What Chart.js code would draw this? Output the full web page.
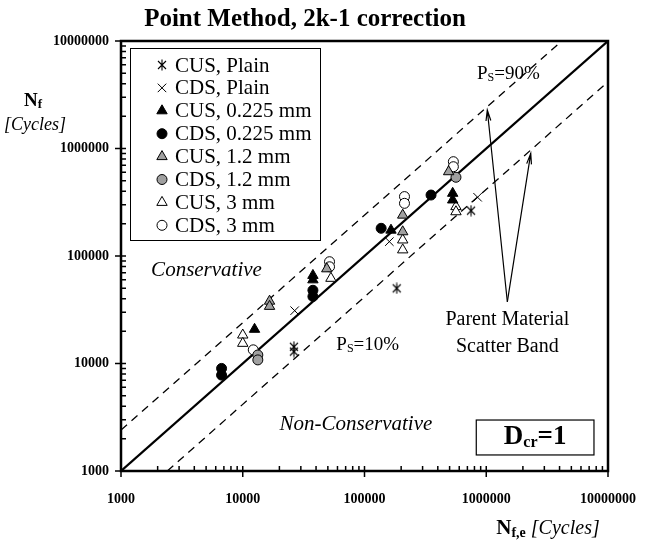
<!DOCTYPE html>
<html>
<head>
<meta charset="utf-8">
<script src="https://cdn.jsdelivr.net/npm/chart.js@4/dist/chart.umd.min.js"></script>
<style>
  html, body { margin: 0; padding: 0; background: #fff; }
  #wrap { width: 672px; height: 540px; }
</style>
</head>
<body>
<div id="wrap"><canvas id="chart" width="672" height="540"></canvas></div>
<script>
// tick labels (powers of ten on both axes)
const xTickValues = [1000, 10000, 100000, 1000000, 10000000];
const yTickValues = [1000, 10000, 100000, 1000000, 10000000];

// series: [Nf,e, Nf]
const cusPlain = [[26300, 14300], [26300, 12900], [184000, 50000], [750000, 264000]];
const cdsPlain = [[26700, 31000], [160000, 136000], [849000, 352000]];
const cus0225 = [[12500, 20800], [37700, 66000], [37700, 60000], [165000, 174000], [530000, 383000], [530000, 332000]];
const cds0225 = [[6700, 9000], [6700, 7800], [37700, 48000], [37700, 42000], [137000, 181000], [352000, 369000]];
const cus12 = [[16600, 38000], [16600, 34000], [49000, 76000], [206000, 168000], [206000, 240000], [491000, 608000]];
const cds12 = [[13300, 12000], [13300, 10800], [564000, 540000]];
const cus3 = [[10000, 18400], [10000, 15400], [53000, 62000], [206000, 141000], [206000, 114000], [564000, 288000], [564000, 258000]];
const cds3 = [[12200, 13400], [51600, 88500], [51600, 79400], [213000, 357000], [213000, 309000], [537000, 754000], [537000, 677000]];

// reference lines
const lineEqual = [[1000, 1000], [10000000, 10000000]];
const lineUpper = [[1000, 2400], [4170000, 10000000]];
const lineLower = [[2400, 1000], [10000000, 4170000]];

const toPts = arr => arr.map(p => ({x: p[0], y: p[1]}));
const SERIF = "'Liberation Serif', 'Times New Roman', serif";

// asterisk marker (x plus vertical bar)
function makeAsterisk() {
  const c = document.createElement('canvas');
  c.width = 12; c.height = 12;
  const g = c.getContext('2d');
  g.strokeStyle = '#000'; g.lineWidth = 1.1;
  g.beginPath();
  g.moveTo(2, 2); g.lineTo(10, 10);
  g.moveTo(10, 2); g.lineTo(2, 10);
  g.moveTo(6, 0.5); g.lineTo(6, 11.5);
  g.stroke();
  return c;
}
const asterisk = makeAsterisk();

const series = [
  {label: 'CUS, Plain', data: cusPlain, style: asterisk, fill: '#000', r: 6},
  {label: 'CDS, Plain', data: cdsPlain, style: 'crossRot', fill: '#000', r: 6},
  {label: 'CUS, 0.225 mm', data: cus0225, style: 'triangle', fill: '#000', r: 6},
  {label: 'CDS, 0.225 mm', data: cds0225, style: 'circle', fill: '#000', r: 5},
  {label: 'CUS, 1.2 mm', data: cus12, style: 'triangle', fill: '#a0a0a0', r: 6},
  {label: 'CDS, 1.2 mm', data: cds12, style: 'circle', fill: '#a0a0a0', r: 5},
  {label: 'CUS, 3 mm', data: cus3, style: 'triangle', fill: '#fff', r: 6},
  {label: 'CDS, 3 mm', data: cds3, style: 'circle', fill: '#fff', r: 5}
];

const datasets = series.map((s, i) => ({
  label: s.label,
  data: toPts(s.data),
  pointStyle: s.style,
  pointRadius: s.r,
  pointHoverRadius: s.r,
  backgroundColor: s.fill,
  borderColor: '#000',
  pointBorderWidth: 1,
  showLine: false,
  order: i
}));
datasets.push({label: 'eq', data: toPts(lineEqual), showLine: true, pointRadius: 0,
  borderColor: '#000', borderWidth: 2.2, order: 20});
datasets.push({label: 'up', data: toPts(lineUpper), showLine: true, pointRadius: 0,
  borderColor: '#000', borderWidth: 1.3, borderDash: [8, 6], order: 21});
datasets.push({label: 'lo', data: toPts(lineLower), showLine: true, pointRadius: 0,
  borderColor: '#000', borderWidth: 1.3, borderDash: [8, 6], order: 22});

// text pieces: [text, font, dy]
function rich(ctx, parts, x, y, align) {
  let w = 0;
  parts.forEach(p => { ctx.font = p[1]; w += ctx.measureText(p[0]).width; });
  let cx = align === 'center' ? x - w / 2 : (align === 'right' ? x - w : x);
  ctx.textAlign = 'left';
  parts.forEach(p => {
    ctx.font = p[1];
    ctx.fillText(p[0], cx, y + (p[2] || 0));
    cx += ctx.measureText(p[0]).width;
  });
}

function drawMarker(ctx, s, x, y) {
  ctx.save();
  ctx.fillStyle = s.fill; ctx.strokeStyle = '#000'; ctx.lineWidth = 1;
  const r = s.r;
  if (s.style === asterisk) {
    ctx.drawImage(asterisk, x - 6, y - 6);
  } else if (s.style === 'crossRot') {
    const o = Math.cos(Math.PI / 4) * r;
    ctx.beginPath();
    ctx.moveTo(x - o, y - o); ctx.lineTo(x + o, y + o);
    ctx.moveTo(x + o, y - o); ctx.lineTo(x - o, y + o);
    ctx.stroke();
  } else if (s.style === 'triangle') {
    ctx.beginPath();
    for (let k = 0; k < 3; k++) {
      const a = k * 2 * Math.PI / 3;
      const px = x + Math.sin(a) * r, py = y - Math.cos(a) * r;
      k ? ctx.lineTo(px, py) : ctx.moveTo(px, py);
    }
    ctx.closePath(); ctx.fill(); ctx.stroke();
  } else {
    ctx.beginPath(); ctx.arc(x, y, r, 0, Math.PI * 2);
    ctx.fill(); ctx.stroke();
  }
  ctx.restore();
}

function arrow(ctx, x1, y1, x2, y2) {
  const a = Math.atan2(y2 - y1, x2 - x1), L = 11, s = 0.22;
  ctx.beginPath();
  ctx.moveTo(x1, y1); ctx.lineTo(x2, y2);
  ctx.moveTo(x2 - L * Math.cos(a - s), y2 - L * Math.sin(a - s));
  ctx.lineTo(x2, y2);
  ctx.lineTo(x2 - L * Math.cos(a + s), y2 - L * Math.sin(a + s));
  ctx.stroke();
}

const decor = {
  id: 'decor',
  afterDraw(chart) {
    const ctx = chart.ctx, xs = chart.scales.x, ys = chart.scales.y, A = chart.chartArea;
    const X = v => xs.getPixelForValue(v), Y = v => ys.getPixelForValue(v);
    ctx.save();
    ctx.fillStyle = '#000'; ctx.strokeStyle = '#000';
    ctx.textBaseline = 'middle';

    // frame
    ctx.lineWidth = 2.5;
    ctx.strokeRect(A.left, A.top, A.right - A.left, A.bottom - A.top);

    // ticks
    ctx.lineWidth = 1.5;
    ctx.beginPath();
    for (let d = 0; d < xTickValues.length; d++) {
      const base = xTickValues[d];
      const px = X(base);
      ctx.moveTo(px, A.bottom + 6); ctx.lineTo(px, A.bottom - 5);
      if (d < xTickValues.length - 1) {
        for (let m = 2; m < 10; m++) {
          const q = X(base * m);
          ctx.moveTo(q, A.bottom); ctx.lineTo(q, A.bottom - 5);
        }
      }
    }
    for (let d = 0; d < yTickValues.length; d++) {
      const base = yTickValues[d];
      const py = Y(base);
      ctx.moveTo(A.left - 6, py); ctx.lineTo(A.left + 5, py);
      if (d < yTickValues.length - 1) {
        for (let m = 2; m < 10; m++) {
          const q = Y(base * m);
          ctx.moveTo(A.left, q); ctx.lineTo(A.left + 5, q);
        }
      }
    }
    ctx.stroke();

    // tick labels
    ctx.font = 'bold 14px ' + SERIF;
    ctx.textAlign = 'center';
    xTickValues.forEach(v => ctx.fillText(String(v), X(v), A.bottom + 28));
    ctx.textAlign = 'right';
    yTickValues.forEach(v => ctx.fillText(String(v), A.left - 12, Y(v)));

    // title
    ctx.textAlign = 'center';
    ctx.font = 'bold 25px ' + SERIF;
    ctx.fillText('Point Method, 2k-1 correction', 305, 20);

    // axis titles
    rich(ctx, [['N', 'bold 19px ' + SERIF], ['f', 'bold 13px ' + SERIF, 4]], 33, 101, 'center');
    rich(ctx, [['[Cycles]', 'italic 18px ' + SERIF]], 35, 125, 'center');
    rich(ctx, [['N', 'bold 21px ' + SERIF], ['f,e', 'bold 14px ' + SERIF, 4],
               [' [Cycles]', 'italic 20px ' + SERIF]], 548, 529, 'center');

    // region labels
    rich(ctx, [['Conservative', 'italic 21px ' + SERIF]], X(5040), Y(74000), 'center');
    rich(ctx, [['Non-Conservative', 'italic 21px ' + SERIF]], X(85000), Y(2680), 'center');
    rich(ctx, [['P', '19px ' + SERIF], ['S', '12px ' + SERIF, 4], ['=90%', '19px ' + SERIF]], X(840000), Y(4930000), 'left');
    rich(ctx, [['P', '19px ' + SERIF], ['S', '12px ' + SERIF, 4], ['=10%', '19px ' + SERIF]], X(58700), Y(14900), 'left');
    rich(ctx, [['Parent Material', '20px ' + SERIF]], X(1490000), Y(25400), 'center');
    rich(ctx, [['Scatter Band', '20px ' + SERIF]], X(1490000), Y(14200), 'center');

    // arrows
    ctx.lineWidth = 1.2;
    arrow(ctx, X(1490000), Y(37500), X(1020000), Y(2280000));
    arrow(ctx, X(1490000), Y(37500), X(2320000), Y(900000));

    // Dcr box
    const bx1 = X(828000), bx2 = X(7670000), by1 = Y(2980), by2 = Y(1410);
    ctx.fillStyle = '#fff';
    ctx.fillRect(bx1, by1, bx2 - bx1, by2 - by1);
    ctx.lineWidth = 1.2;
    ctx.strokeRect(bx1, by1, bx2 - bx1, by2 - by1);
    ctx.fillStyle = '#000';
    rich(ctx, [['D', 'bold 27px ' + SERIF], ['cr', 'bold 16px ' + SERIF, 5], ['=1', 'bold 27px ' + SERIF]],
         (bx1 + bx2) / 2, (by1 + by2) / 2, 'center');

    // legend
    const lx = 130, ly = 48, lw = 190, lh = 192;
    ctx.fillStyle = '#fff';
    ctx.fillRect(lx, ly, lw, lh);
    ctx.lineWidth = 1;
    ctx.strokeRect(lx + 0.5, ly + 0.5, lw, lh);
    ctx.fillStyle = '#000';
    series.forEach((s, i) => {
      const yy = ly + 17 + i * 22.9;
      drawMarker(ctx, s, lx + 32, yy);
      rich(ctx, [[s.label, '21px ' + SERIF]], lx + 45, yy + 1, 'left');
    });
    ctx.restore();
  }
};

new Chart(document.getElementById('chart'), {
  type: 'scatter',
  data: {datasets},
  options: {
    responsive: false,
    animation: false,
    devicePixelRatio: 1,
    layout: {padding: {left: 121, top: 41, right: 64, bottom: 69}},
    plugins: {legend: {display: false}, tooltip: {enabled: false}},
    scales: {
      x: {type: 'logarithmic', min: 1000, max: 10000000, display: false},
      y: {type: 'logarithmic', min: 1000, max: 10000000, display: false}
    }
  },
  plugins: [decor]
});
</script>
</body>
</html>
